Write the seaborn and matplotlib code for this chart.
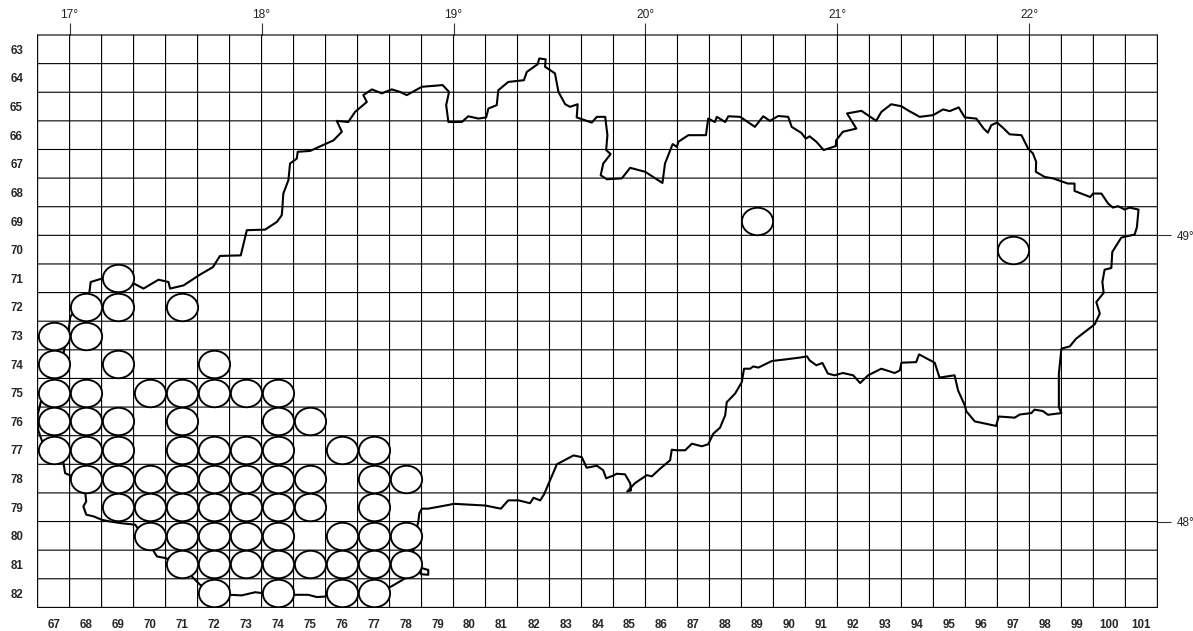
import numpy as np
import pandas as pd
import matplotlib
matplotlib.use("Agg")
import matplotlib.pyplot as plt
from matplotlib.path import Path
from matplotlib.transforms import Affine2D
import seaborn as sns

# grid squares of the map
columns = list(range(67, 102))
rows = list(range(63, 83))

# longitude / latitude marks sit on the grid lines
lon_edges = [67.5, 73.5, 79.5, 85.5, 91.5, 97.5]
lon_labels = ["17°", "18°", "19°", "20°", "21°", "22°"]
lat_edges = [69.5, 79.5]
lat_labels = ["49°", "48°"]

# occupied squares, one line per grid row
occ_col = [89,
           97,
           69,
           68, 69, 71,
           67, 68,
           67, 69, 72,
           67, 68, 70, 71, 72, 73, 74,
           67, 68, 69, 71, 74, 75,
           67, 68, 69, 71, 72, 73, 74, 76, 77,
           68, 69, 70, 71, 72, 73, 74, 75, 77, 78,
           69, 70, 71, 72, 73, 74, 75, 77,
           70, 71, 72, 73, 74, 76, 77, 78,
           71, 72, 73, 74, 75, 76, 77, 78,
           72, 74, 76, 77]
occ_row = [69,
           70,
           71,
           72, 72, 72,
           73, 73,
           74, 74, 74,
           75, 75, 75, 75, 75, 75, 75,
           76, 76, 76, 76, 76, 76,
           77, 77, 77, 77, 77, 77, 77, 77, 77,
           78, 78, 78, 78, 78, 78, 78, 78, 78, 78,
           79, 79, 79, 79, 79, 79, 79, 79,
           80, 80, 80, 80, 80, 80, 80, 80,
           81, 81, 81, 81, 81, 81, 81, 81,
           82, 82, 82, 82]

# state border traced in grid units (column, row)
border_col = [66.60, 66.50, 66.52, 66.74, 67.27, 67.31, 67.36, 67.52, 67.77, 67.99,
              68.02, 67.93, 68.02, 68.25, 68.51, 68.77, 69.13, 69.55, 70.02, 70.12,
              70.23, 70.51, 70.96, 71.32, 71.58, 72.52, 72.88, 73.30, 73.51, 74.52,
              74.96, 75.23, 75.49, 77.52, 77.83, 78.51, 78.71, 78.71, 78.48, 78.21,
              78.30, 78.40, 78.43, 78.51, 78.71, 79.39, 79.50, 80.49, 80.98, 81.21,
              81.53, 81.89, 82.00, 82.21, 82.33, 82.73, 83.25, 83.51, 83.66, 83.98,
              84.18, 84.27, 84.50, 84.60, 84.86, 85.02, 85.05, 84.93, 85.17, 85.54,
              85.70, 85.96, 86.27, 86.32, 86.48, 86.74, 86.95, 87.26, 87.46, 87.62,
              87.83, 87.99, 88.04, 88.30, 88.51, 88.58, 88.77, 88.87, 89.03, 89.45,
              89.91, 90.33, 90.55, 90.63, 90.84, 91.03, 91.20, 91.41, 91.67, 91.99,
              92.21, 92.46, 92.87, 93.29, 93.45, 93.50, 93.96, 94.05, 94.54, 94.69,
              95.16, 95.27, 95.48, 95.53, 95.79, 96.46, 96.54, 97.04, 97.20, 97.56,
              97.66, 97.92, 98.08, 98.50, 98.42, 98.42, 98.50, 98.76, 98.96, 99.54,
              99.70, 99.59, 99.82, 99.78, 99.85, 100.06, 100.09, 100.37, 100.79, 100.86,
              100.91, 100.63, 100.48, 100.27, 100.11, 99.96, 99.75, 99.49, 99.40, 98.91,
              98.91, 98.70, 98.24, 97.98, 97.70, 97.71, 97.61, 97.46, 97.25, 96.88,
              96.70, 96.49, 96.31, 96.20, 96.07, 95.84, 95.48, 95.29, 95.01, 94.80,
              94.49, 94.07, 93.70, 93.50, 93.18, 92.87, 92.71, 92.25, 91.80, 92.09,
              91.67, 91.46, 91.45, 91.07, 90.84, 90.63, 90.51, 90.37, 90.07, 89.96,
              89.65, 89.39, 89.18, 88.92, 88.46, 88.09, 87.99, 87.73, 87.67, 87.46,
              87.39, 86.84, 86.53, 86.48, 86.35, 86.11, 86.03, 85.49, 85.02, 84.76,
              84.29, 84.10, 84.18, 84.41, 84.27, 84.31, 84.24, 83.98, 83.82, 83.35,
              83.38, 83.14, 82.99, 82.78, 82.67, 82.36, 82.38, 82.18, 82.13, 81.79,
              81.70, 81.21, 80.90, 80.85, 80.59, 80.52, 80.28, 79.96, 79.76, 79.34,
              79.27, 79.36, 79.16, 78.51, 78.04, 77.83, 77.57, 77.26, 76.95, 76.68,
              76.79, 76.42, 76.21, 75.85, 76.01, 75.75, 75.02, 74.63, 74.60, 74.39,
              74.34, 74.18, 74.15, 74.13, 73.98, 73.61, 73.04, 72.85, 72.20, 71.98,
              71.58, 71.06, 70.64, 70.59, 70.28, 69.81, 69.52, 69.08, 68.51, 68.16,
              68.12, 67.52, 67.49, 67.20, 66.89, 66.60]
border_row = [75.32, 75.79, 76.31, 77.01, 77.36, 77.46, 77.81, 77.89, 78.41, 78.51,
              78.80, 78.97, 79.26, 79.32, 79.44, 79.50, 79.56, 79.61, 80.34, 80.52,
              80.72, 80.78, 81.04, 81.42, 81.71, 82.06, 82.08, 81.97, 82.00, 82.06,
              82.06, 82.14, 82.12, 81.79, 81.59, 81.13, 81.19, 81.36, 81.34, 80.86,
              79.99, 79.50, 79.21, 79.05, 79.05, 78.91, 78.88, 78.94, 79.05, 78.76,
              78.76, 78.86, 78.67, 78.76, 78.55, 77.50, 77.19, 77.25, 77.62, 77.55,
              77.71, 77.99, 77.89, 77.83, 77.85, 78.16, 78.41, 78.45, 78.16, 77.88,
              77.92, 77.65, 77.36, 76.99, 77.01, 77.01, 76.78, 76.87, 76.80, 76.43,
              76.22, 75.79, 75.33, 75.03, 74.63, 74.16, 74.16, 74.08, 74.12, 73.89,
              73.83, 73.77, 73.73, 73.87, 74.04, 73.96, 74.33, 74.39, 74.31, 74.39,
              74.66, 74.39, 74.16, 74.31, 74.22, 73.95, 73.93, 73.66, 73.95, 74.47,
              74.39, 74.92, 75.44, 75.65, 76.00, 76.16, 75.83, 75.87, 75.76, 75.71,
              75.59, 75.64, 75.77, 75.71, 75.50, 74.33, 73.46, 73.38, 73.11, 72.61,
              72.23, 71.83, 71.51, 71.13, 70.70, 70.64, 70.08, 69.58, 69.47, 69.21,
              68.60, 68.53, 68.60, 68.48, 68.53, 68.39, 68.04, 68.04, 68.16, 67.95,
              67.69, 67.69, 67.51, 67.46, 67.28, 66.93, 66.64, 66.47, 66.00, 65.97,
              65.77, 65.56, 65.65, 65.91, 65.77, 65.42, 65.38, 65.03, 65.16, 65.10,
              65.30, 65.36, 65.13, 64.99, 64.92, 65.19, 65.50, 65.15, 65.24, 65.77,
              65.88, 66.18, 66.38, 66.52, 66.23, 66.04, 66.12, 65.92, 65.71, 65.36,
              65.33, 65.50, 65.34, 65.71, 65.36, 65.34, 65.54, 65.36, 65.54, 65.42,
              66.00, 66.00, 66.23, 66.41, 66.31, 66.99, 67.67, 67.28, 67.14, 67.51,
              67.54, 67.40, 66.99, 66.66, 66.52, 66.00, 65.36, 65.36, 65.56, 65.38,
              64.92, 65.01, 64.92, 64.49, 63.84, 63.61, 63.35, 63.32, 63.52, 63.79,
              64.08, 64.14, 64.43, 64.95, 65.07, 65.38, 65.42, 65.34, 65.54, 65.54,
              64.95, 64.49, 64.25, 64.31, 64.60, 64.49, 64.40, 64.54, 64.40, 64.60,
              64.84, 65.19, 65.54, 65.50, 65.88, 66.18, 66.55, 66.58, 66.82, 66.99,
              67.57, 68.04, 68.56, 68.80, 69.03, 69.30, 69.32, 70.20, 70.22, 70.61,
              70.87, 71.25, 71.36, 71.13, 71.05, 71.36, 71.19, 71.00, 71.01, 71.13,
              71.48, 72.35, 72.64, 74.22, 74.92, 75.32]

border = pd.DataFrame({"col": border_col, "row": border_row})
occupied = pd.DataFrame({"col": occ_col, "row": occ_row})

sns.set_style("white")
plt.rcParams["font.family"] = ["Liberation Sans", "DejaVu Sans"]

fig = plt.figure(figsize=(11.93, 6.31), dpi=100)
ax = fig.add_axes([37.6 / 1193, 1 - 607.4 / 631, 1119.8 / 1193, 572.4 / 631])

# thin grid, left unsnapped so the lines fall between pixels as in the scan
for edge in np.arange(columns[0] - 0.5, columns[-1] + 1):
    ax.axvline(edge, color="black", lw=0.8, snap=False, clip_on=False, zorder=1)
for edge in np.arange(rows[0] - 0.5, rows[-1] + 1):
    ax.axhline(edge, color="black", lw=0.8, snap=False, clip_on=False, zorder=1)

sns.lineplot(data=border, x="col", y="row", sort=False, estimator=None,
             color="black", lw=1.5, ax=ax, zorder=2)

# squares are wider than tall, so the dots become ellipses
ellipse = Path.unit_circle().transformed(Affine2D().scale(1, 0.88))
sns.scatterplot(data=occupied, x="col", y="row", marker=ellipse, s=505,
                color="white", edgecolor="black", linewidth=1.35, ax=ax, zorder=3)

ax.set_xlim(columns[0] - 0.5, columns[-1] + 0.5)
ax.set_ylim(rows[-1] + 0.5, rows[0] - 0.5)
ax.set_xlabel("")
ax.set_ylabel("")
sns.despine(ax=ax, left=True, bottom=True)

ax.set_xticks(columns)
ax.set_xticklabels(columns, fontsize=8.3, fontweight="bold")
ax.set_yticks(rows)
ax.set_yticklabels(rows, fontsize=8.3, fontweight="bold")
ax.tick_params(axis="x", length=0, pad=8.5)
ax.tick_params(axis="y", length=0, pad=10.5)

top = ax.secondary_xaxis("top")
top.set_xticks(lon_edges)
top.set_xticklabels(lon_labels, fontsize=8.6, color="#222222")
top.tick_params(axis="x", length=8.6, width=0.8, color="#333333", pad=1.5)
top.spines["top"].set_visible(False)

right = ax.secondary_yaxis("right")
right.set_yticks(lat_edges)
right.set_yticklabels(lat_labels, fontsize=8.4, color="#222222")
right.tick_params(axis="y", length=10, width=0.8, color="#333333", pad=4)
right.spines["right"].set_visible(False)

plt.savefig("out.png", dpi=100)
